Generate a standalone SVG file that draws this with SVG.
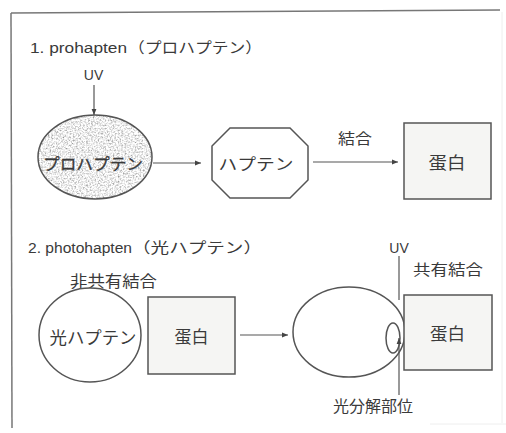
<svg xmlns="http://www.w3.org/2000/svg" width="506" height="433" viewBox="0 0 506 433">
<style>
.t{font-family:"Liberation Sans","Noto Sans CJK JP",sans-serif;fill:#3a3a3a;}
.j{font-family:"Noto Sans CJK JP","Liberation Sans",sans-serif;fill:#3a3a3a;}
.ln{stroke:#555;stroke-width:1.2;fill:none;}
.shape{stroke:#555;stroke-width:1.5;}
.box{fill:#f5f5f3;stroke:#555;stroke-width:1.5;}
</style>
<defs>
<marker id="ah" viewBox="0 0 10 10" refX="10" refY="5" markerWidth="8" markerHeight="6" markerUnits="userSpaceOnUse" orient="auto">
<path d="M0,1 L10,5 L0,9 Z" fill="#444"/>
</marker>
<filter id="grain" x="0" y="0" width="100%" height="100%">
<feTurbulence type="fractalNoise" baseFrequency="0.6" numOctaves="2" seed="5" result="n"/>
<feColorMatrix in="n" type="matrix" values="1.5 0 0 0 0.1  1.5 0 0 0 0.1  1.5 0 0 0 0.1  0 0 0 0 1" result="g"/>
<feComposite in="g" in2="SourceAlpha" operator="in"/>
</filter>
</defs>
<rect width="506" height="433" fill="#ffffff"/>
<g id="frame">
<line x1="11" y1="13" x2="500" y2="10" stroke="#777" stroke-width="1.5"/>
<line x1="11" y1="13" x2="12" y2="428" stroke="#777" stroke-width="1.5"/>
<line x1="502" y1="12" x2="502" y2="423" stroke="#eee" stroke-width="1"/>
<line x1="430" y1="424" x2="506" y2="424" stroke="#eee" stroke-width="1"/>
</g>
<g id="title1"><text class="t" x="30" y="53" font-size="14" textLength="97" lengthAdjust="spacingAndGlyphs">1. prohapten</text><text class="j" x="128" y="53" font-size="15" textLength="134" lengthAdjust="spacingAndGlyphs">（プロハプテン）</text></g>
<g id="uv1"><text class="t" x="93.5" y="80" font-size="14" text-anchor="middle">UV</text></g>
<g id="prohapten">
<ellipse cx="95" cy="157" rx="57" ry="42" fill="#ccc" filter="url(#grain)"/>
<ellipse cx="95" cy="157" rx="57" ry="42" fill="none" class="shape"/>
<text class="j" x="93" y="170" font-size="16" text-anchor="middle" textLength="100" lengthAdjust="spacingAndGlyphs" stroke="#3a3a3a" stroke-width="0.3">プロハプテン</text>
</g>
<g id="hapten">
<polygon points="230,128 290,128 308,146 308,180 290,198 230,198 212,180 212,146" fill="#fff" class="shape"/>
<text class="j" x="256" y="170" font-size="16" text-anchor="middle" textLength="75" lengthAdjust="spacingAndGlyphs">ハプテン</text>
</g>
<g id="label-ketsugo"><text class="j" x="355" y="144" font-size="15" text-anchor="middle" textLength="34" lengthAdjust="spacingAndGlyphs">結合</text></g>
<g id="protein1">
<rect x="404" y="123" width="87" height="76" class="box"/>
<text class="j" x="447" y="169" font-size="17" text-anchor="middle" textLength="37" lengthAdjust="spacingAndGlyphs">蛋白</text>
</g>
<g id="title2"><text class="t" x="28" y="253" font-size="14" textLength="104" lengthAdjust="spacingAndGlyphs">2. photohapten</text><text class="j" x="132" y="253" font-size="15" textLength="130" lengthAdjust="spacingAndGlyphs">（光ハプテン）</text></g>
<g id="label-noncovalent"><text class="j" x="113.5" y="287" font-size="16" text-anchor="middle" textLength="87" lengthAdjust="spacingAndGlyphs">非共有結合</text></g>
<g id="photohapten">
<ellipse cx="90" cy="335" rx="51" ry="47" fill="#fff" class="shape"/>
<text class="j" x="93" y="344" font-size="17" text-anchor="middle" textLength="87" lengthAdjust="spacingAndGlyphs">光ハプテン</text>
</g>
<g id="protein2">
<rect x="148" y="297" width="87" height="77" class="box"/>
<text class="j" x="191.5" y="343" font-size="17" text-anchor="middle" textLength="34" lengthAdjust="spacingAndGlyphs">蛋白</text>
</g>
<g id="complex">
<ellipse cx="349" cy="332" rx="56" ry="45" fill="#fff" class="shape"/>
<ellipse cx="393" cy="338" rx="7" ry="15" fill="#fff" class="shape"/>
</g>
<g id="uv2"><text class="t" x="399" y="253" font-size="14" text-anchor="middle">UV</text></g>
<g id="label-covalent"><text class="j" x="448" y="275" font-size="15" text-anchor="middle" textLength="70" lengthAdjust="spacingAndGlyphs">共有結合</text></g>
<g id="protein3">
<rect x="404" y="295" width="88" height="75" class="box"/>
<text class="j" x="447.5" y="340" font-size="17" text-anchor="middle" textLength="35" lengthAdjust="spacingAndGlyphs">蛋白</text>
</g>
<g id="label-site"><text class="j" x="373" y="412" font-size="16" text-anchor="middle" textLength="80" lengthAdjust="spacingAndGlyphs">光分解部位</text></g>
<g id="connectors">
<line x1="94" y1="85" x2="94" y2="115" class="ln" marker-end="url(#ah)"/>
<line x1="153" y1="163" x2="201" y2="163" class="ln" marker-end="url(#ah)"/>
<line x1="313" y1="162" x2="398" y2="162" class="ln" marker-end="url(#ah)"/>
<line x1="240" y1="335" x2="288" y2="335" class="ln" marker-end="url(#ah)"/>
<line x1="399" y1="256" x2="399" y2="300" class="ln"/>
<line x1="399" y1="395" x2="399" y2="338" class="ln" marker-end="url(#ah)"/>
</g>
</svg>
